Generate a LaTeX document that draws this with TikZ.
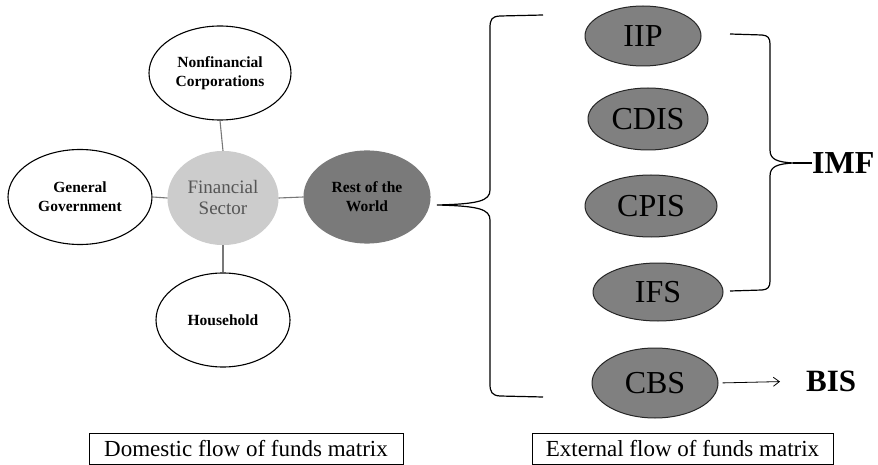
\documentclass[tikz,border=0pt]{standalone}
\usepackage{fontspec}
\setmainfont{Liberation Serif}
\usetikzlibrary{shapes.geometric,arrows.meta}
\definecolor{fsgray}{RGB}{204,204,204}
\definecolor{fstext}{RGB}{85,85,85}
\definecolor{rwgray}{RGB}{122,122,122}
\definecolor{srcgray}{RGB}{128,128,128}
\definecolor{linkgray}{RGB}{120,120,120}
\tikzset{
  ell/.style={ellipse, draw=black, line width=1.1pt, inner sep=0pt, align=center},
  sector/.style={ell, fill=white, font=\fontsize{15.5}{19}\selectfont\bfseries},
  src/.style={ell, fill=srcgray, draw=black!85, line width=1pt, font=\fontsize{32}{34}\selectfont},
  link/.style={draw=linkgray, line width=1.1pt},
  bracepath/.style={draw=black, line width=1.2pt},
  matrixbox/.style={draw=black, line width=0.8pt, inner sep=0pt, font=\fontsize{23}{25}\selectfont},
  agency/.style={anchor=west, inner sep=0pt, font=\fontsize{32}{34}\selectfont\bfseries}
}
\begin{document}
\begin{tikzpicture}[x=1pt,y=-1pt]
\useasboundingbox[fill=white] (0,0) rectangle (878,465);

% domestic sectors
\node[sector, minimum width=142, minimum height=94] (nf) at (220,73) {Nonfinancial\\Corporations};
\node[sector, minimum width=144, minimum height=95] (gg) at (80,197) {General\\Government};
\node[ell, fill=fsgray, draw=fsgray, text=fstext, font=\fontsize{19}{21}\selectfont, minimum width=110, minimum height=93] (fs) at (223,198) {Financial\\Sector};
\node[ell, fill=rwgray, draw=rwgray, font=\fontsize{15.5}{19}\selectfont\bfseries, minimum width=126, minimum height=92] (rw) at (367,197) {Rest of the\\World};
\node[sector, minimum width=134, minimum height=94] (hh) at (223,320) {Household};

\draw[link] (nf.south) -- (fs.north);
\draw[link] (fs.south) -- (hh.north);
\draw[link] (gg.east) -- (fs.west);
\draw[link] (fs.east) -- (rw.west);

% external sources
\node[src, minimum width=116, minimum height=60] (iip) at (643,36) {IIP};
\node[src, minimum width=120, minimum height=62] (cdis) at (648,119) {CDIS};
\node[src, minimum width=132, minimum height=62] (cpis) at (651,206) {CPIS};
\node[src, minimum width=130, minimum height=58] (ifs) at (658,292) {IFS};
\node[src, minimum width=126, minimum height=70] (cbs) at (655,383) {CBS};

% big brace
\coordinate (btop) at (543,15);
\coordinate (btip) at (437,205);
\coordinate (bbot) at (543,397);
\draw[bracepath] (btop) -- (500,16) .. controls (492,16.5) and (490,19) .. (490,28)
  -- (490,190) .. controls (490,201) and (478,204) .. (btip)
  .. controls (478,206) and (490,209) .. (490,220)
  -- (490,384) .. controls (490,392) and (492,395.5) .. (500,396) -- (bbot);

% IMF brace
\node[agency] (imf) at (812,163) {IMF};
\coordinate (itop) at (730,34);
\coordinate (itip) at (793,163);
\coordinate (ibot) at (730,291);
\draw[bracepath] (itop) -- (762,35) .. controls (768,35.5) and (770,38) .. (770,44)
  -- (770,150) .. controls (770,160) and (778,162) .. (itip)
  .. controls (778,164) and (770,166) .. (770,176)
  -- (770,281) .. controls (770,287) and (768,289.5) .. (762,290) -- (ibot);
\draw[bracepath] (itip) -- (imf.west);

% BIS
\node[agency, font=\fontsize{31}{33}\selectfont\bfseries] (bis) at (806,381) {BIS};
\draw[line width=0.8pt, -{Straight Barb[length=6pt,width=9pt]}, shorten <=4pt, shorten >=26pt] (cbs.east) -- (bis.west);

% bottom boxes
\node[matrixbox, minimum width=314, minimum height=31] (dom) at (246,448.5) {Domestic flow of funds matrix};
\node[matrixbox, minimum width=301, minimum height=31] (ext) at (682.5,448.5) {External flow of funds matrix};
\end{tikzpicture}
\end{document}
